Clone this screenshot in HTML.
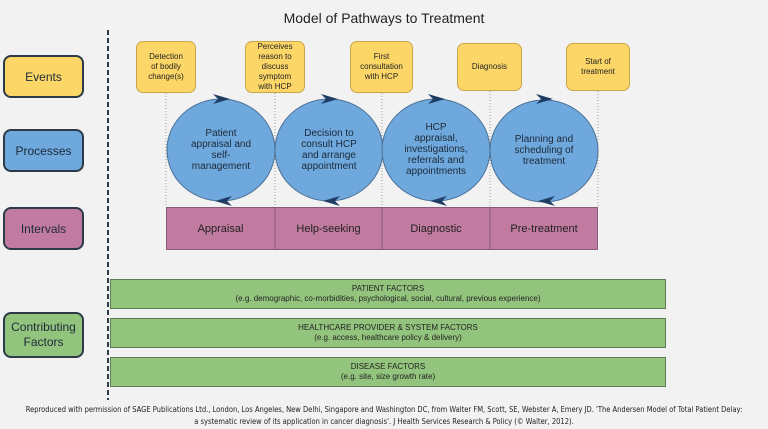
<!DOCTYPE html>
<html><head><style>
body{margin:0;width:768px;height:429px;background:#f2f2f2;font-family:"Liberation Sans",sans-serif;position:relative;overflow:hidden}
.a{position:absolute;box-sizing:border-box;display:flex;align-items:center;justify-content:center;text-align:center}
.lbl{left:3px;width:81px;height:43px;border:2px solid #2d3a48;border-radius:8px;font-size:12px;color:#1b2a3a}
.ev{background:#fcd768;border:1px solid #c9a647;border-radius:7px;font-size:8px;line-height:10px;color:#222}
.g{left:110px;width:556px;height:30px;background:#93c47d;border:1px solid #5d7d57;flex-direction:column;font-size:8px;line-height:10px;color:#222}
</style></head><body>
<div class="a" style="left:0;top:8px;width:768px;height:20px;font-size:14px;color:#222">Model of Pathways to Treatment</div>
<div class="a lbl" style="top:55px;background:#fcd768">Events</div>
<div class="a lbl" style="top:129px;background:#6fa8dc">Processes</div>
<div class="a lbl" style="top:207px;background:#c27ba0">Intervals</div>
<div class="a lbl" style="top:312px;height:46px;background:#93c47d;line-height:15px">Contributing<br>Factors</div>
<svg style="position:absolute;left:0;top:0" width="768" height="429">
<line x1="108" y1="30" x2="108" y2="400" stroke="#2d3a48" stroke-width="2" stroke-dasharray="5,3"/>
<g stroke="#999" stroke-dasharray="1,2" stroke-width="1">
<line x1="166" y1="93" x2="166" y2="207"/><line x1="275" y1="93" x2="275" y2="207"/><line x1="382" y1="93" x2="382" y2="207"/><line x1="490" y1="91" x2="490" y2="207"/><line x1="598" y1="91" x2="598" y2="207"/></g>
<g fill="#6fa8dc" stroke="#4a6f95">
<ellipse cx="221" cy="150" rx="54" ry="51"/><ellipse cx="329" cy="150" rx="54" ry="51"/><ellipse cx="436" cy="150" rx="54" ry="51"/><ellipse cx="544" cy="151" rx="54" ry="51"/></g>
<g fill="#1f3d63">
<path d="M213,94 L230,99 L213,104 L218,99Z"/><path d="M321,94 L338,99 L321,104 L326,99Z"/><path d="M428,94 L445,99 L428,104 L433,99Z"/><path d="M536,94 L553,99 L536,104 L541,99Z"/>
<path d="M232,196 L215,201 L232,206 L227,201Z"/><path d="M340,196 L323,201 L340,206 L335,201Z"/><path d="M447,196 L430,201 L447,206 L442,201Z"/><path d="M555,196 L538,201 L555,206 L550,201Z"/></g>
<rect x="166.5" y="207.5" width="431" height="42" fill="#c27ba0" stroke="#8a5b79"/>
<g stroke="#8a5b79"><line x1="275" y1="207" x2="275" y2="249"/><line x1="382" y1="207" x2="382" y2="249"/><line x1="490" y1="207" x2="490" y2="249"/></g>
</svg>
<div class="a ev" style="left:136px;top:41px;width:60px;height:52px">Detection<br>of bodily<br>change(s)</div>
<div class="a ev" style="left:245px;top:41px;width:60px;height:52px">Perceives<br>reason to<br>discuss<br>symptom<br>with HCP</div>
<div class="a ev" style="left:350px;top:41px;width:63px;height:52px">First<br>consultation<br>with HCP</div>
<div class="a ev" style="left:457px;top:43px;width:65px;height:48px">Diagnosis</div>
<div class="a ev" style="left:566px;top:43px;width:64px;height:48px">Start of<br>treatment</div>
<div class="a" style="left:167px;top:120px;width:108px;height:60px;font-size:10px;line-height:11px;color:#1b2a3a">Patient<br>appraisal and<br>self-<br>management</div>
<div class="a" style="left:275px;top:120px;width:108px;height:60px;font-size:10px;line-height:11px;color:#1b2a3a">Decision to<br>consult HCP<br>and arrange<br>appointment</div>
<div class="a" style="left:382px;top:118px;width:108px;height:62px;font-size:10px;line-height:11px;color:#1b2a3a">HCP<br>appraisal,<br>investigations,<br>referrals and<br>appointments</div>
<div class="a" style="left:490px;top:120px;width:108px;height:60px;font-size:10px;line-height:11px;color:#1b2a3a">Planning and<br>scheduling of<br>treatment</div>
<div class="a" style="left:166px;top:208px;width:109px;height:41px;font-size:11px;color:#222">Appraisal</div>
<div class="a" style="left:275px;top:208px;width:107px;height:41px;font-size:11px;color:#222">Help-seeking</div>
<div class="a" style="left:382px;top:208px;width:108px;height:41px;font-size:11px;color:#222">Diagnostic</div>
<div class="a" style="left:490px;top:208px;width:108px;height:41px;font-size:11px;color:#222">Pre-treatment</div>
<div class="a g" style="top:279px">PATIENT FACTORS<br>(e.g. demographic, co-morbidities, psychological, social, cultural, previous experience)</div>
<div class="a g" style="top:318px">HEALTHCARE PROVIDER &amp; SYSTEM FACTORS<br>(e.g. access, healthcare policy &amp; delivery)</div>
<div class="a g" style="top:357px">DISEASE FACTORS<br>(e.g. site, size growth rate)</div>
<div class="a" style="left:0;top:403px;width:768px;height:26px;font-size:7.5px;line-height:12px;color:#222;font-family:'DejaVu Sans Condensed','Liberation Sans',sans-serif">Reproduced with permission of SAGE Publications Ltd., London, Los Angeles, New Delhi, Singapore and Washington DC, from Walter FM, Scott, SE, Webster A, Emery JD. 'The Andersen Model of Total Patient Delay:<br>a systematic review of its application in cancer diagnosis'. J Health Services Research &amp; Policy (© Walter, 2012).</div>
</body></html>
